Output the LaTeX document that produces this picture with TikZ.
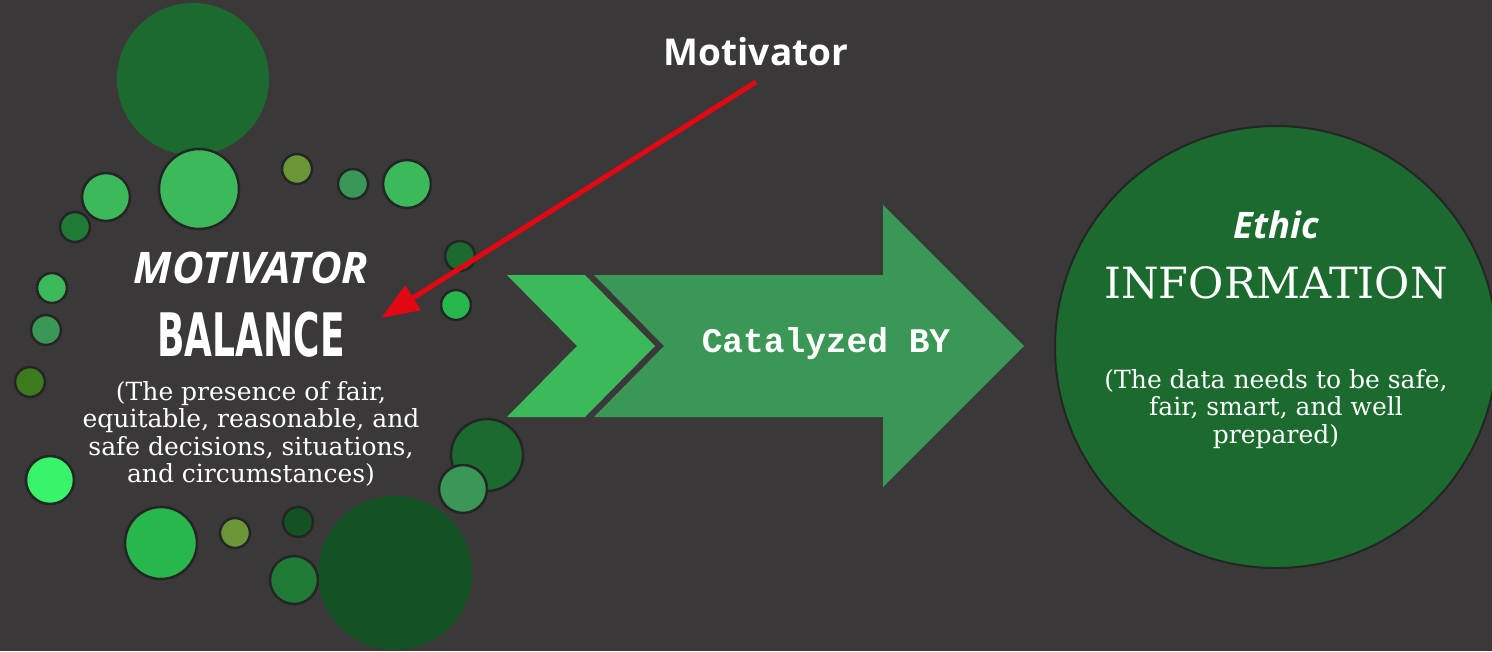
\documentclass[tikz,border=0pt]{standalone}
\usepackage{fontspec}
\usepackage{graphicx}
\usetikzlibrary{arrows.meta}
\setmainfont{DejaVu Serif}
\setmonofont{Liberation Mono}
\newfontfamily\osans{Open Sans}
\newfontfamily\dvsans{DejaVu Sans}
\definecolor{bgc}{RGB}{58,56,57}
\definecolor{ringc}{RGB}{38,37,38}
\definecolor{darkA}{RGB}{27,107,46}
\definecolor{darkB}{RGB}{19,82,35}
\definecolor{medg}{RGB}{30,122,52}
\definecolor{lightg}{RGB}{60,185,90}
\definecolor{tealg}{RGB}{58,151,85}
\definecolor{oliveg}{RGB}{106,150,56}
\definecolor{darkolive}{RGB}{60,122,30}
\definecolor{brightg}{RGB}{40,183,76}
\definecolor{neong}{RGB}{56,244,106}
\definecolor{redc}{RGB}{227,6,19}
\begin{document}
\begin{tikzpicture}[x=1pt,y=-1pt,
  bub/.style={circle, draw=ringc, line width=2.5pt, inner sep=0pt},
  blob/.style={circle, inner sep=0pt},
  wtext/.style={text=white, inner sep=0pt, align=center},
  desc/.style={wtext, font=\fontsize{25}{27.5}\selectfont},
  redarrow/.style={draw=redc, line width=5pt, -{Triangle[length=38pt,width=28pt]}}
]
\useasboundingbox (0,0) rectangle (1492,651);
\fill[bgc] (0,0) rectangle (1492,651);

% large unbordered blobs
\node[blob, fill=darkA, minimum size=152pt] (b1) at (193,79) {};
\node[blob, fill=darkB, minimum size=154pt] (b2) at (395,573) {};

% bordered bubbles
\node[bub, fill=lightg, minimum size=80pt] (c1) at (199,189) {};
\node[bub, fill=lightg, minimum size=48pt] (c2) at (106,197) {};
\node[bub, fill=medg, minimum size=30pt] (c3) at (75,227) {};
\node[bub, fill=oliveg, minimum size=30pt] (c4) at (297,169) {};
\node[bub, fill=tealg, minimum size=30pt] (c5) at (353,184) {};
\node[bub, fill=lightg, minimum size=48pt] (c6) at (407,184) {};
\node[bub, fill=darkA, minimum size=30pt] (c7) at (460,256) {};
\node[bub, fill=brightg, minimum size=30pt] (c8) at (456,305) {};
\node[bub, fill=lightg, minimum size=30pt] (c9) at (52,288) {};
\node[bub, fill=tealg, minimum size=30pt] (c10) at (46,330) {};
\node[bub, fill=darkolive, minimum size=30pt] (c11) at (30,382) {};
\node[bub, fill=neong, minimum size=48pt] (c12) at (50,480) {};
\node[bub, fill=brightg, minimum size=72pt] (c13) at (161,543) {};
\node[bub, fill=oliveg, minimum size=30pt] (c14) at (235,533) {};
\node[bub, fill=darkB, minimum size=30pt] (c15) at (298,522) {};
\node[bub, fill=medg, minimum size=48pt] (c16) at (294,580) {};
\node[bub, fill=darkA, minimum size=72pt] (c17) at (487,455) {};
\node[bub, fill=tealg, minimum size=48pt] (c18) at (463,489) {};

% right circle
\node[circle, fill=darkA, draw=ringc, line width=2pt, inner sep=0pt, minimum size=442pt] (info) at (1276,347) {};

% chevron and arrow
\fill[lightg] (507,275) -- (585,275) -- (655,346) -- (585,417) -- (507,417) -- (577,346) -- cycle;
\fill[tealg] (594,275) -- (883,275) -- (883,205) -- (1024,346) -- (883,487) -- (883,417) -- (594,417) -- (664,346) -- cycle;

% texts
\node[wtext, font=\ttfamily\bfseries\fontsize{34.5}{36}\selectfont] (cat) at (826,344) {Catalyzed BY};
\node[wtext, font=\osans\bfseries\fontsize{37}{40}\selectfont] (mlabel) at (756,52) {Motivator};
\node[wtext, font=\osans\bfseries\itshape\fontsize{43.5}{46}\selectfont] (motiv) at (251,268) {MOTIVATOR};
\node[wtext, font=\dvsans\bfseries\fontsize{60}{62}\selectfont] (bal) at (251,335) {\scalebox{0.6}[1]{BALANCE}};
\node[desc] (baldesc) at (251,434) {(The presence of fair,\\equitable, reasonable, and\\safe decisions, situations,\\and circumstances)};
\node[wtext, font=\osans\bfseries\itshape\fontsize{36.5}{39}\selectfont] (ethic) at (1276,225) {Ethic};
\node[wtext, font=\fontsize{43}{46}\selectfont] (infot) at (1276,283) {INFORMATION};
\node[desc] (infodesc) at (1276,409) {(The data needs to be safe,\\fair, smart, and well\\prepared)};

% red arrow
\coordinate (mstart) at (756,82);
\coordinate (mend) at (381,318);
\draw[redarrow] (mstart) -- (mend);
\end{tikzpicture}
\end{document}
